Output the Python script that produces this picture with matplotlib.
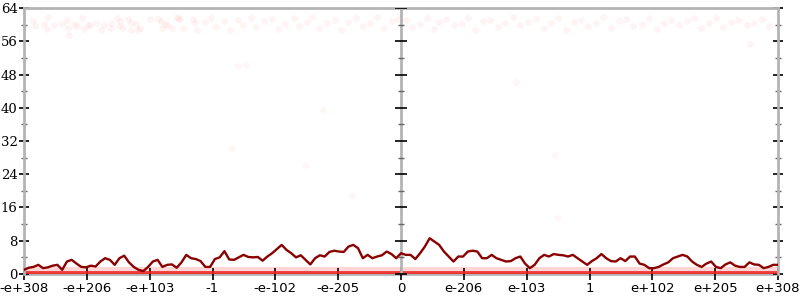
import matplotlib.pyplot as plt
import numpy as np

# tick labels along the bottom (13 evenly spaced positions, -6 .. 6)
x_labels = ["-e+308", "-e+206", "-e+103", "-1", "-e-102", "-e-205", "0",
            "e-206", "e-103", "1", "e+102", "e+205", "e+308"]
x_ticks = list(range(-6, 7))

# dark red running line near the bottom
line_vals = [
    1.0, 1.5, 1.7, 2.2, 1.4, 1.6, 2.0, 2.2, 1.0, 3.0, 3.4, 2.5, 1.7, 1.6, 2.0, 1.8, 3.0, 3.8, 3.4, 2.2,
    3.8, 4.4, 2.8, 1.7, 1.0,
    0.7, 1.7, 3.0, 3.4, 1.7, 2.2, 2.3, 1.5, 2.8, 4.6, 3.8, 3.6, 3.1, 1.7, 1.7, 3.6, 4.0, 5.5, 3.5, 3.4,
    4.0, 4.6, 4.1, 4.0, 4.1, 3.2, 4.2,
    5.0, 6.0, 7.0, 5.8, 5.0, 4.0, 4.5, 3.4, 2.3, 3.8, 4.5, 4.2, 5.3, 5.6, 5.4, 5.3, 6.6, 7.0, 6.2, 3.8,
    4.6, 3.8, 4.2, 4.5, 5.4, 4.8, 3.8,
    5.0, 4.6, 4.6, 3.6, 5.0, 6.6, 8.6, 7.8, 7.0, 5.4, 4.2, 3.0, 4.2, 4.2, 5.4, 5.6, 5.4, 3.8, 3.8, 4.6,
    3.8, 3.4, 3.0, 3.1, 3.8, 4.2, 2.5,
    1.4, 2.2, 3.8, 4.6, 4.2, 4.8, 4.6, 4.5, 4.2, 4.6, 3.8, 3.0, 2.2, 3.1, 3.8, 4.8, 3.8, 3.1, 3.0, 3.8,
    3.1, 4.2, 4.2, 2.5, 2.2, 1.4,
    1.4, 1.7, 2.3, 2.8, 3.8, 4.2, 4.6, 4.2, 3.0, 2.2, 1.7, 2.5, 3.0, 1.7, 1.4, 2.3, 2.8, 2.0, 1.7, 1.7,
    2.8, 2.3, 2.2, 1.4, 1.7, 2.2, 2.2,
]

# faint scatter points near the top
top_x = [-5.85, -5.83, -5.68, -5.62, -5.52, -5.64, -5.40, -5.32, -5.30, -5.28, -5.20, -5.15, -5.07,
         -5.04, -4.98, -4.95, -4.85, -4.77, -4.72, -4.62, -4.61, -4.52, -4.49, -4.47, -4.43, -4.34,
         -4.30, -4.29, -4.22, -4.18, -4.15, -3.99, -3.87, -3.82, -3.80, -3.76, -3.72, -3.64, -3.56,
         -3.55, -3.52, -3.47, -3.31, -3.28, -3.25, -3.12, -3.02, -2.95, -2.81, -2.72, -2.60, -2.51,
         -2.38, -2.30, -2.18, -2.05, -1.96, -1.85, -1.71, -1.62, -1.50, -1.41, -1.30, -1.18, -1.05,
         -0.96, -0.85, -0.72, -0.61, -0.50, -0.38, -0.27, -0.15, -0.05, 0.08, 0.18, 0.30, 0.42,
         0.53, 0.61, 0.72, 0.85, 0.97, 1.06, 1.18, 1.31, 1.42, 1.55, 1.66, 1.78, 1.90, 2.02, 2.15,
         2.27, 2.38, 2.50, 2.63, 2.75, 2.86, 2.98, 3.10, 3.22, 3.35, 3.47, 3.58, 3.70, 3.83, 3.95,
         4.07, 4.18, 4.30, 4.42, 4.55, 4.66, 4.78, 4.90, 5.02, 5.13, 5.25, 5.37, 5.50, 5.55, 5.62,
         5.74, 5.86]
top_y = [60.8, 59.6, 60.1, 61.8, 59.9, 59.0, 60.1, 61.0, 59.3, 57.6, 60.1, 59.6, 61.5,
         59.0, 59.8, 59.8, 60.5, 58.6, 59.8, 60.3, 59.3, 61.5, 59.6, 60.8, 59.1, 61.3,
         58.8, 60.3, 60.1, 58.8, 59.3, 61.3, 61.3, 60.8, 59.3, 60.1, 59.8, 59.3, 61.8,
         61.3, 61.3, 59.3, 61.3, 60.5, 58.8, 60.6, 61.6, 59.4, 60.9, 58.7, 61.2, 60.0,
         61.7, 59.5, 60.8, 61.4, 58.9, 60.2, 61.6, 59.7, 60.6, 61.9, 59.2, 60.4, 61.1,
         58.8, 60.7, 61.5, 59.6, 60.3, 61.8, 59.1, 60.9, 61.4, 61.0, 59.5, 60.2, 61.7,
         58.9, 60.6, 61.3, 59.8, 60.1, 61.6, 58.6, 60.9, 61.2, 59.4, 60.5, 61.8, 59.9,
         60.7, 61.4, 59.2, 60.3, 61.5, 58.8, 60.6, 61.1, 59.7, 60.4, 61.9, 59.3, 60.8,
         61.3, 59.6, 60.2, 61.7, 58.9, 60.5, 61.2, 59.8, 60.9, 61.5, 59.1, 60.3, 61.6,
         59.5, 60.7, 61.2, 59.9, 55.4, 60.4, 61.4, 59.7]

# a few stray points in the middle of the plot
mid_x = [-2.69, -2.47, -2.60, -1.53, -1.24, -0.78, 1.83, 2.45, 2.50]
mid_y = [30.3, 50.3, 50.0, 26.2, 39.5, 19.0, 46.2, 28.6, 13.5]

plt.rcParams['font.family'] = 'DejaVu Sans'
fig = plt.figure(figsize=(8, 3), dpi=100)
ax = fig.add_axes([0.03, 0.0867, 0.9425, 0.8866])

gray = '#b4b4b4'
# pink haze and solid band at zero
ax.fill_between([-6, 6], [0, 0], [1.6, 1.6], color='red', alpha=0.16, lw=0, zorder=1)
ax.plot([-6, 6], [0.2, 0.2], color='#ee2020', lw=3.5, alpha=0.85, zorder=2)

ax.scatter(top_x, top_y, s=24, color='red', alpha=0.045, lw=0, zorder=2)
ax.scatter(mid_x, mid_y, s=24, color='red', alpha=0.035, lw=0, zorder=2)

xs = np.linspace(-6, 6, len(line_vals))
ax.plot(xs, line_vals, color='#8b0000', lw=1.7, zorder=4)

# center axis line with ticks
ax.axvline(0, color=gray, lw=2, zorder=3)
ax.plot([0] * 9, list(range(0, 65, 8)), ls='none', marker='_', ms=9, mew=1.2, color='black', zorder=3)
ax.plot([0] * 8, list(range(4, 64, 8)), ls='none', marker='_', ms=5, mew=1, color='#666666', zorder=3)

ax.set_xlim(-6, 6)
ax.set_ylim(0, 64)
ax.set_xticks(x_ticks)
ax.set_xticklabels(x_labels)
ax.set_yticks(range(0, 65, 8))
ax.set_yticks(range(4, 64, 8), minor=True)
for lab in ax.get_yticklabels():
    lab.set_family('DejaVu Serif')

for side in ['left', 'right', 'top', 'bottom']:
    ax.spines[side].set_color(gray)
    ax.spines[side].set_linewidth(2)
ax.spines['bottom'].set_zorder(0)

ax.tick_params(axis='y', which='major', direction='inout', length=7, width=1.2,
               color='black', left=True, right=True, labelsize=9.5, pad=1)
ax.tick_params(axis='y', which='minor', direction='inout', length=4, width=1,
               color='#666666', left=True, right=True)
ax.tick_params(axis='x', which='major', direction='inout', length=8, width=1.2,
               color='black', labelsize=9.5, pad=2)

plt.savefig('out.png')
